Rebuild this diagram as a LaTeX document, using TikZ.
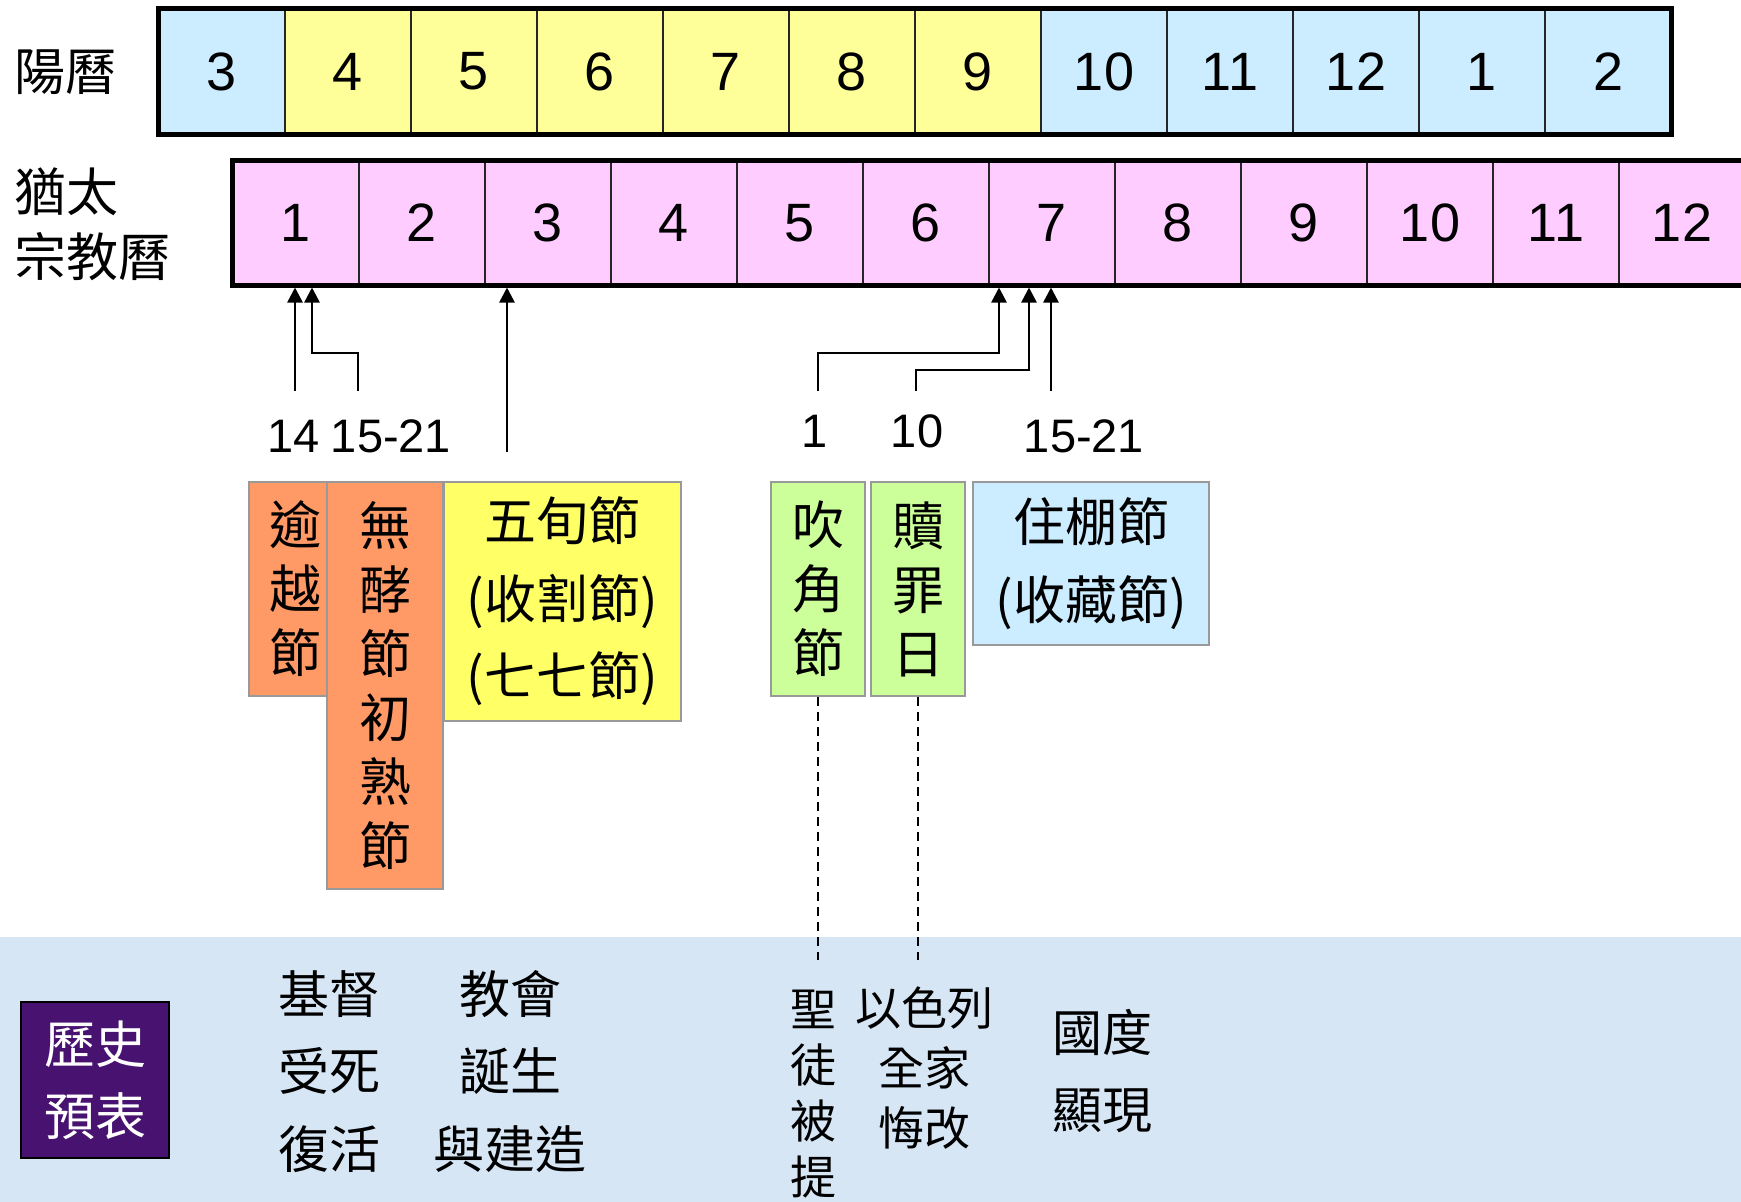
\documentclass[tikz,border=0pt]{standalone}
\usepackage{fontspec}
\setmainfont{Liberation Sans}
\newfontfamily\cjk{Noto Sans CJK TC}
\usetikzlibrary{arrows.meta}
\definecolor{sunblue}{HTML}{CCECFF}
\definecolor{sunyellow}{HTML}{FFFF99}
\definecolor{jewpink}{HTML}{FFCCFF}
\definecolor{festorange}{HTML}{FF9966}
\definecolor{festyellow}{HTML}{FFFF66}
\definecolor{festgreen}{HTML}{CCFF99}
\definecolor{festblue}{HTML}{CCECFF}
\definecolor{festborder}{HTML}{999999}
\definecolor{bgblue}{RGB}{214,230,245}
\definecolor{histpurple}{RGB}{72,18,112}
\begin{document}
\begin{tikzpicture}[x=1pt,y=-1pt,
  cell/.style={draw=black!85, line width=1.8pt, inner sep=0pt, minimum width=126pt,
    font=\fontsize{54}{54}\selectfont},
  frame/.style={draw=black, line width=5pt},
  arr/.style={line width=2.6pt, -{Triangle[width=15pt,length=15pt]}},
  dayl/.style={anchor=base, inner sep=0pt, font=\fontsize{47}{47}\selectfont},
  fest/.style={draw=festborder, line width=2pt, inner sep=0pt, anchor=north west, align=center},
  ftext/.style={font=\cjk\fontsize{52}{64}\selectfont},
  ctext/.style={align=center, inner sep=0pt},
  dashln/.style={line width=1.5pt, dash pattern=on 9pt off 6pt}
]
\useasboundingbox (0,0) rectangle (1741,1202);
\fill[bgblue] (0,937) rectangle (1741,1202);

% solar calendar
\foreach \i/\m/\c in {1/3/sunblue,2/4/sunyellow,3/5/sunyellow,4/6/sunyellow,5/7/sunyellow,
  6/8/sunyellow,7/9/sunyellow,8/10/sunblue,9/11/sunblue,10/12/sunblue,11/1/sunblue,12/2/sunblue}
  \node[cell, fill=\c, minimum height=125pt] (t\i) at ({159+126*(\i-1)+63},71.5) {\m};
\draw[frame] (t1.north west) rectangle (t12.south east);
\node[anchor=west, inner sep=0pt, font=\cjk\fontsize{51}{51}\selectfont] (lsolar) at (14,72) {陽曆};

% jewish calendar
\foreach \i in {1,...,12}
  \node[cell, fill=jewpink, minimum height=124pt] (j\i) at ({233+126*(\i-1)+63},223) {\i};
\draw[frame] (j1.north west) rectangle (j12.south east);
\node[anchor=west, inner sep=0pt, align=left, font=\cjk\fontsize{52}{65}\selectfont] (ljew) at (14,224.5) {猶太\\宗教曆};

% arrows
\coordinate (s14) at (295,391);
\coordinate (s15) at (358,391);
\coordinate (s50) at (507,452);
\coordinate (s1) at (818,391);
\coordinate (s10) at (916,391);
\coordinate (s1521) at (1051,391);
\coordinate (tp14) at (295,287.5);
\coordinate (tp15) at (312,287.5);
\coordinate (tp50) at (507,287.5);
\coordinate (tp1) at (999,287.5);
\coordinate (tp10) at (1029,287.5);
\coordinate (tp1521) at (1051,287.5);
\draw[arr] (s14) -- (tp14);
\draw[arr] (s15) -- (358,353) -| (tp15);
\draw[arr] (s50) -- (tp50);
\draw[arr] (s1) -- (818,353) -| (tp1);
\draw[arr] (s10) -- (916,370) -| (tp10);
\draw[arr] (s1521) -- (tp1521);

% day labels
\node[dayl] (d14) at (294,452) {14};
\node[dayl] (d15) at (391,452) {15-21};
\node[dayl] (d1) at (815,447) {1};
\node[dayl] (d10) at (917,447) {10};
\node[dayl] (d1521) at (1084,452) {15-21};

% festivals
\node[fest, fill=festorange, minimum width=80pt, minimum height=214pt, ftext] (pass) at (248,481) {\hspace*{13pt}逾\\\hspace*{13pt}越\\\hspace*{13pt}節};
\node[fest, fill=festorange, minimum width=116pt, minimum height=407pt, ftext] (unl) at (326,481) {無\\酵\\節\\初\\熟\\節};
\node[fest, fill=festyellow, minimum width=237pt, minimum height=239pt, font=\cjk\fontsize{52}{77.5}\selectfont] (pent) at (443,481) {五旬節\\(收割節)\\(七七節)};
\node[fest, fill=festgreen, minimum width=94pt, minimum height=214pt, ftext] (horn) at (770,481) {吹\\角\\節};
\node[fest, fill=festgreen, minimum width=94pt, minimum height=214pt, ftext] (atone) at (870,481) {贖\\罪\\日};
\node[fest, fill=festblue, minimum width=236pt, minimum height=163pt, font=\cjk\fontsize{52}{78}\selectfont] (tab) at (972,481) {住棚節\\(收藏節)};

% dashed links
\coordinate (dend) at (0,960);
\draw[dashln] (horn.south) -- (horn.south |- dend);
\draw[dashln] (atone.south) -- (atone.south |- dend);

% history box
\node[draw=black, line width=2pt, fill=histpurple, text=white, anchor=north west, inner sep=0pt,
  minimum width=148pt, minimum height=156pt, align=center,
  font=\cjk\fontsize{51}{72}\selectfont] (hist) at (20,1001) {歷史\\預表};

% fulfilment texts
\node[ctext, font=\cjk\fontsize{51}{77.5}\selectfont] (christ) at (329,1071.5) {基督\\受死\\復活};
\node[ctext, font=\cjk\fontsize{51}{77.5}\selectfont] (church) at (510,1071.5) {教會\\誕生\\與建造};
\node[ctext, font=\cjk\fontsize{46}{56}\selectfont] (rapture) at (813,1094.5) {聖\\徒\\被\\提};
\node[ctext, font=\cjk\fontsize{46}{60}\selectfont] (israel) at (924,1068) {以色列\\全家\\悔改};
\node[ctext, font=\cjk\fontsize{50}{77}\selectfont] (kingdom) at (1102,1071.5) {國度\\顯現};
\end{tikzpicture}
\end{document}
